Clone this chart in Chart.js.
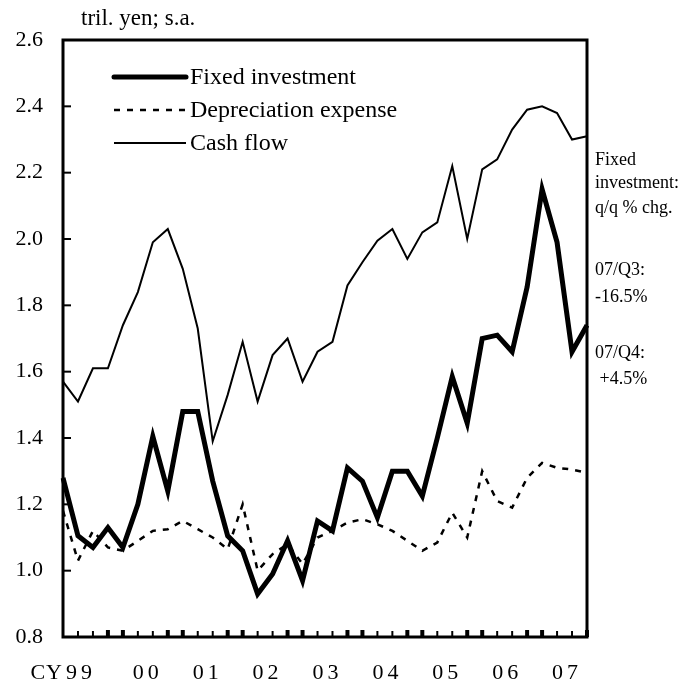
<!DOCTYPE html>
<html>
<head>
<meta charset="utf-8">
<script src="https://cdn.jsdelivr.net/npm/chart.js@4"></script>
<style>
  body { margin: 0; background: #fff; }
  #wrap { width: 681px; height: 684px; }
</style>
</head>
<body>
<div id="wrap"><canvas id="myChart" width="681" height="684"></canvas></div>
<script>
// quarters CY1999 Q1 .. CY2007 Q4
var quarters = [];
var years = ["99", "00", "01", "02", "03", "04", "05", "06", "07"];
years.forEach(function (y) {
  for (var q = 1; q <= 4; q++) quarters.push(y + "/Q" + q);
});

var fixed_investment = [1.28, 1.105, 1.07, 1.13, 1.07, 1.20, 1.405, 1.24, 1.48, 1.48, 1.27, 1.105,
  1.06, 0.93, 0.99, 1.09, 0.97, 1.15, 1.12, 1.31, 1.27, 1.16, 1.30, 1.30,
  1.225, 1.40, 1.585, 1.445, 1.70, 1.71, 1.66, 1.855, 2.15, 1.99, 1.66, 1.74];

var depreciation = [1.18, 1.03, 1.12, 1.07, 1.06, 1.09, 1.12, 1.125, 1.15, 1.125, 1.10, 1.065,
  1.20, 1.00, 1.05, 1.08, 1.02, 1.10, 1.12, 1.145, 1.155, 1.14, 1.12, 1.09,
  1.06, 1.085, 1.175, 1.10, 1.30, 1.21, 1.19, 1.28, 1.325, 1.31, 1.305, 1.295];

var cash_flow = [1.57, 1.51, 1.61, 1.61, 1.74, 1.84, 1.99, 2.03, 1.91, 1.73, 1.39, 1.53,
  1.69, 1.51, 1.65, 1.70, 1.57, 1.66, 1.69, 1.86, 1.93, 1.995, 2.03, 1.94,
  2.02, 2.05, 2.22, 2.00, 2.21, 2.24, 2.33, 2.39, 2.40, 2.38, 2.30, 2.31];

var unitLabel = "tril. yen; s.a.";
var sideNote = ["Fixed", "investment:", "q/q % chg.", "07/Q3:", "-16.5%", "07/Q4:", " +4.5%"];

var FONT = "'Liberation Serif', 'DejaVu Serif', serif";

// draws box, inward ticks, year labels, legend and side notes
var decor = {
  id: "decor",
  afterDraw: function (chart) {
    var ctx = chart.ctx;
    var a = chart.chartArea;
    var xs = chart.scales.x, ys = chart.scales.y;
    ctx.save();
    ctx.strokeStyle = "#000";
    ctx.fillStyle = "#000";

    // y ticks pointing inward
    ctx.lineWidth = 2;
    ys.ticks.forEach(function (t) {
      var py = ys.getPixelForValue(t.value);
      ctx.beginPath();
      ctx.moveTo(a.left, py);
      ctx.lineTo(a.left + 8, py);
      ctx.stroke();
    });

    // x quarter ticks
    for (var i = 1; i < quarters.length; i++) {
      var px = xs.getPixelForValue(i);
      var thick = (i % 4 === 0 || i % 4 === 3);
      ctx.lineWidth = thick ? 4 : 2;
      ctx.beginPath();
      ctx.moveTo(px, a.bottom);
      ctx.lineTo(px, a.bottom - (thick ? 7 : 6));
      ctx.stroke();
    }

    // frame
    ctx.lineWidth = 3;
    ctx.strokeRect(a.left, a.top, a.right - a.left, a.bottom - a.top);

    // year labels
    ctx.font = "22px " + FONT;
    ctx.textBaseline = "alphabetic";
    ctx.textAlign = "center";
    ctx.letterSpacing = "4px";
    years.forEach(function (y, k) {
      var cx = (xs.getPixelForValue(4 * k) + xs.getPixelForValue(4 * k + 3)) / 2;
      if (k === 0) cx -= 7;
      ctx.fillText(y, cx + 2.5, 679);
    });
    ctx.letterSpacing = "1px";
    ctx.textAlign = "right";
    ctx.fillText("CY", 63, 679);
    ctx.letterSpacing = "0px";

    // unit label
    ctx.textAlign = "left";
    ctx.font = "23px " + FONT;
    ctx.fillText(unitLabel, 81, 25);

    // legend
    ctx.font = "24px " + FONT;
    ctx.textBaseline = "middle";
    var ly = [77, 110, 143];
    chart.data.datasets.forEach(function (ds, j) {
      ctx.lineWidth = ds.borderWidth;
      ctx.setLineDash(ds.borderDash || []);
      ctx.lineCap = j === 0 ? "round" : "butt";
      ctx.beginPath();
      ctx.moveTo(114, ly[j]);
      ctx.lineTo(186, ly[j]);
      ctx.stroke();
      ctx.setLineDash([]);
      ctx.fillText(ds.label, 190, ly[j] + 1);
    });

    // side notes
    ctx.font = "18px " + FONT;
    ctx.textBaseline = "alphabetic";
    var ny = [165, 188, 213, 275, 302, 358, 384];
    sideNote.forEach(function (s, j) {
      ctx.fillText(s, 595, ny[j]);
    });
    ctx.restore();
  }
};

var ctx = document.getElementById("myChart");

new Chart(ctx, {
  type: "line",
  data: {
    labels: quarters,
    datasets: [
      {
        label: "Fixed investment",
        data: fixed_investment,
        borderColor: "#000",
        borderWidth: 5,
        pointRadius: 0,
        fill: false,
        tension: 0,
      },
      {
        label: "Depreciation expense",
        data: depreciation,
        borderColor: "#000",
        borderWidth: 2.5,
        borderDash: [6, 7],
        pointRadius: 0,
        fill: false,
        tension: 0,
      },
      {
        label: "Cash flow",
        data: cash_flow,
        borderColor: "#000",
        borderWidth: 2,
        pointRadius: 0,
        fill: false,
        tension: 0,
      },
    ],
  },
  options: {
    responsive: false,
    animation: false,
    layout: { padding: { top: 40, right: 94, left: 0, bottom: 0 } },
    plugins: {
      legend: { display: false },
      tooltip: { enabled: false },
    },
    scales: {
      x: {
        offset: false,
        grid: { display: false, drawTicks: false },
        border: { display: false },
        ticks: { display: false },
        afterFit: function (s) { s.height = 47; },
      },
      y: {
        min: 0.8,
        max: 2.6,
        grid: { display: false, drawTicks: false },
        border: { display: false },
        ticks: {
          stepSize: 0.2,
          padding: 20,
          color: "#000",
          font: { family: FONT, size: 22 },
          callback: function (v) { return v.toFixed(1); },
        },
        afterFit: function (s) { s.width = 63; },
      },
    },
  },
  plugins: [decor],
});
</script>
</body>
</html>
